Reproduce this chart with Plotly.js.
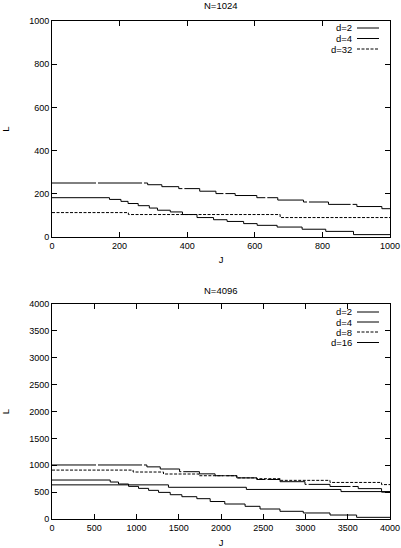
<!DOCTYPE html>
<html>
<head>
<meta charset="utf-8">
<script src="https://cdn.plot.ly/plotly-3.0.1.min.js"></script>
<style>
html,body{margin:0;padding:0;background:#fff;}
#chart{width:401px;height:548px;}
</style>
</head>
<body>
<div id="chart"></div>
<script>
// ---- Data: N=1024 (top panel) ----
var titleTop = "N=1024";
var j1024_d2  = [0, 170, 204, 225, 255, 288, 312, 350, 386, 429, 478, 518, 567, 607, 666, 740, 810, 892, 1000];
var l1024_d2  = [182, 174, 165, 155, 145, 134, 124, 116, 104, 90, 80, 72, 62, 54, 46, 36, 26, 11, 11];
var j1024_d4  = [0, 283, 325, 375, 437, 485, 542, 606, 668, 744, 818, 902, 976, 1000];
var l1024_d4  = [250, 242, 233, 224, 212, 201, 192, 182, 171, 162, 151, 141, 131, 131];
var j1024_d32 = [0, 226, 675, 1000];
var l1024_d32 = [113, 104, 90, 90];
var labelsTop = ["d=2", "d=4", "d=32"];

// ---- Data: N=4096 (bottom panel) ----
var titleBottom = "N=4096";
var j4096_d2  = [0, 689, 787, 906, 1024, 1143, 1261, 1399, 1537, 1714, 1872, 2045, 2285, 2462, 2698, 2974, 3290, 3605, 4000];
var l4096_d2  = [725, 688, 651, 607, 570, 533, 495, 452, 415, 378, 325, 279, 236, 186, 143, 112, 74, 31, 31];
var j4096_d4  = [0, 1123, 1281, 1510, 1745, 1930, 2187, 2423, 2699, 2994, 3290, 3624, 3900, 4000];
var l4096_d4  = [1005, 970, 930, 880, 840, 805, 765, 735, 694, 644, 605, 565, 500, 500];
var j4096_d8  = [0, 960, 1320, 1740, 2187, 2423, 2699, 3290, 3900, 4000];
var l4096_d8  = [910, 874, 837, 805, 765, 750, 719, 680, 640, 640];
var j4096_d16 = [0, 1378, 2300, 3420, 4000];
var l4096_d16 = [635, 590, 550, 510, 510];
var labelsBottom = ["d=2", "d=4", "d=8", "d=16"];

var xLabel = "J", yLabel = "L";

// ---- Styles ----
var FONT = "Liberation Sans, Arial, Helvetica, sans-serif";
var styles = {
  solid: "solid",
  longdash: "44px,2px",
  dashdot: "3px,1.5px"
};

function tr(x, y, name, dash, xa, ya) {
  return {
    x: x, y: y, name: name, type: "scatter", mode: "lines",
    line: {color: "#000", width: 1, dash: dash, shape: "hv"},
    xaxis: xa, yaxis: ya, showlegend: false, hoverinfo: "x+y+name"
  };
}

var data = [
  tr(j1024_d2,  l1024_d2,  labelsTop[0], styles.solid,    "x",  "y"),
  tr(j1024_d4,  l1024_d4,  labelsTop[1], styles.longdash, "x",  "y"),
  tr(j1024_d32, l1024_d32, labelsTop[2], styles.dashdot,  "x",  "y"),
  tr(j4096_d2,  l4096_d2,  labelsBottom[0], styles.solid,    "x2", "y2"),
  tr(j4096_d4,  l4096_d4,  labelsBottom[1], styles.longdash, "x2", "y2"),
  tr(j4096_d8,  l4096_d8,  labelsBottom[2], styles.dashdot,  "x2", "y2"),
  tr(j4096_d16, l4096_d16, labelsBottom[3], styles.solid,    "x2", "y2")
];

// Layout geometry (pixels)
var W = 401, H = 548;
var mL = 52, mR = 11, mT = 21, mB = 29;
var plotH = H - mT - mB;
var topDomain = [(H - mB - 237) / plotH, 1];
var botDomain = [0, (H - mB - 304) / plotH];
function py(pix) { return (H - mB - pix) / plotH; }     // pixel y -> paper y
function px(pix) { return (pix - mL) / (W - mL - mR); } // pixel x -> paper x

function axis(extra) {
  var a = {
    showline: true, linecolor: "#000", linewidth: 1, mirror: "allticks",
    ticks: "inside", ticklen: 5, tickwidth: 1, tickcolor: "#000",
    showgrid: false, zeroline: false, fixedrange: true,
    tickfont: {family: FONT, size: 9, color: "#000"}
  };
  for (var k in extra) a[k] = extra[k];
  return a;
}

var annotations = [
  {text: titleTop, xref: "paper", yref: "paper", x: 0.5, y: py(5), xanchor: "center", yanchor: "middle", showarrow: false, font: {family: FONT, size: 9.5, color: "#000"}},
  {text: titleBottom, xref: "paper", yref: "paper", x: 0.5, y: py(290), xanchor: "center", yanchor: "middle", showarrow: false, font: {family: FONT, size: 9.5, color: "#000"}}
];
var shapes = [];
var topRows = [28, 38.5, 49];
var topDash = [styles.solid, styles.longdash, styles.dashdot];
var botRows = [312, 322, 332, 342.5];
var botDash = [styles.solid, styles.longdash, styles.dashdot, styles.solid];
function addKey(label, rowPix, dash) {
  annotations.push({text: label, xref: "paper", yref: "paper", x: px(354), y: py(rowPix), xanchor: "right", yanchor: "middle", showarrow: false, font: {family: FONT, size: 9.5, color: "#000"}});
  shapes.push({type: "line", xref: "paper", yref: "paper", x0: px(357), x1: px(379), y0: py(rowPix), y1: py(rowPix), line: {color: "#000", width: 1, dash: dash}});
}
labelsTop.forEach(function (l, i) { addKey(l, topRows[i], topDash[i]); });
labelsBottom.forEach(function (l, i) { addKey(l, botRows[i], botDash[i]); });

var layout = {
  width: W, height: H,
  margin: {l: mL, r: mR, t: mT, b: mB, pad: 0},
  paper_bgcolor: "#fff", plot_bgcolor: "#fff",
  font: {family: FONT, size: 9, color: "#000"},
  showlegend: false,
  xaxis: axis({domain: [0, 1], range: [0, 1000], dtick: 200, tick0: 0, anchor: "y",
               title: {text: xLabel, standoff: 6, font: {family: FONT, size: 9.5}}}),
  yaxis: axis({domain: topDomain, range: [0, 1000], dtick: 200, tick0: 0, anchor: "x",
               title: {text: yLabel, standoff: 18, font: {family: FONT, size: 9.5}}}),
  xaxis2: axis({domain: [0, 1], range: [0, 4000], dtick: 500, tick0: 0, anchor: "y2",
               title: {text: xLabel, standoff: 8, font: {family: FONT, size: 9.5}}}),
  yaxis2: axis({domain: botDomain, range: [0, 4000], dtick: 500, tick0: 0, anchor: "x2",
               title: {text: yLabel, standoff: 18, font: {family: FONT, size: 9.5}}}),
  annotations: annotations,
  shapes: shapes
};

Plotly.newPlot("chart", data, layout, {displayModeBar: false, staticPlot: true});
</script>
</body>
</html>
